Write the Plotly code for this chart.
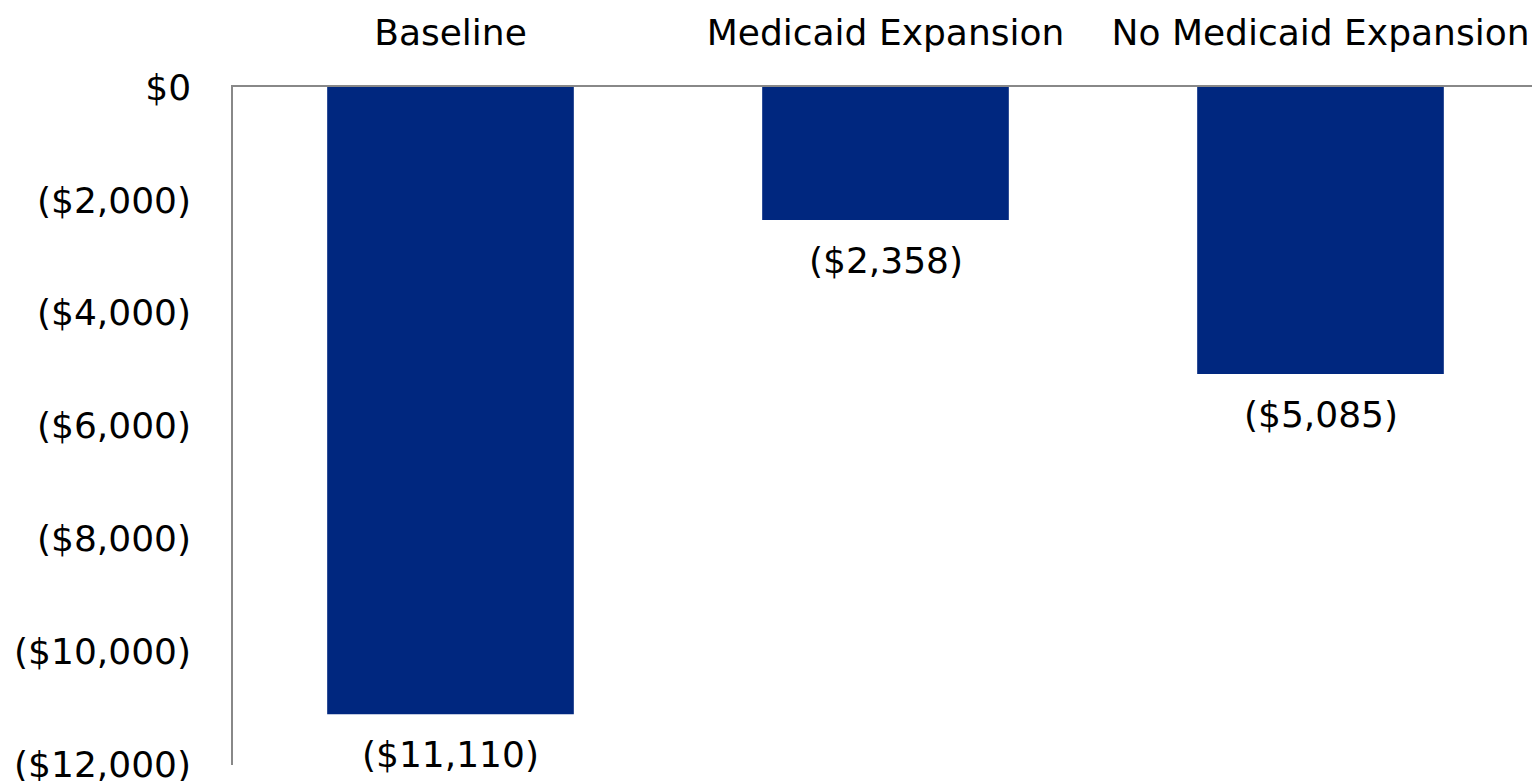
import plotly.graph_objects as go

categories = ["Baseline", "Medicaid Expansion", "No Medicaid Expansion"]
values = [-11110, -2358, -5085]
tick_vals = [0, -2000, -4000, -6000, -8000, -10000, -12000]

def money(v):
    s = "${:,}".format(abs(int(v)))
    return "(" + s + ")" if v < 0 else s

tick_text = [money(v) for v in tick_vals]
labels = [money(v) for v in values]

FONT = "DejaVu Sans"
SIZE = 36
fig = go.Figure(go.Bar(
    x=categories, y=values, width=0.567,
    marker=dict(color="#00277F", line=dict(width=0)),
    hoverinfo="skip",
))
for c, v, t in zip(categories, values, labels):
    fig.add_annotation(x=c, y=v, text=t, showarrow=False, yanchor="top",
                       yshift=-18, font=dict(family=FONT, size=SIZE, color="black"))
fig.update_layout(
    width=1540, height=781,
    margin=dict(l=225, r=10, t=79, b=24),
    paper_bgcolor="white", plot_bgcolor="white",
    showlegend=False,
    font=dict(family=FONT, size=SIZE, color="black"),
)
fig.update_xaxes(side="top", showline=True, linecolor="#888888", linewidth=1.5,
                 ticks="", showgrid=False, ticklabelstandoff=26, automargin=False,
                 tickfont=dict(family=FONT, size=SIZE, color="black"))
fig.update_yaxes(range=[-12010, 0], tickvals=tick_vals, ticktext=tick_text,
                 showline=True, linecolor="#888888", linewidth=1.5, automargin=False,
                 ticks="", showgrid=False, zeroline=False, ticklabelstandoff=33,
                 tickfont=dict(family=FONT, size=SIZE, color="black"))
fig.write_html("out.html")
